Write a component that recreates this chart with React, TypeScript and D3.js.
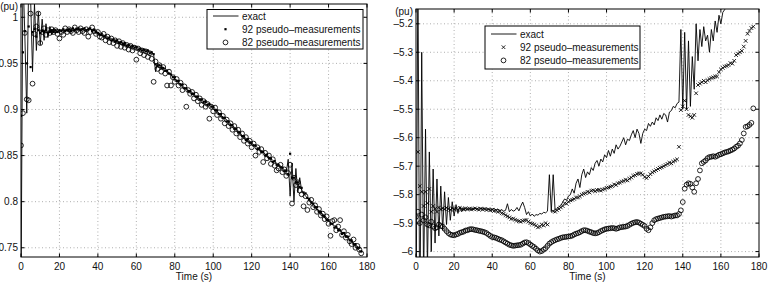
import React, { useEffect, useRef } from 'react';
import * as d3 from 'd3';

// one sample per second, 0 .. 177 s
const timeS: number[] = d3.range(0, 178);

const xTicks = [0, 20, 40, 60, 80, 100, 120, 140, 160, 180];
const leftYTicks = [0.75, 0.8, 0.85, 0.9, 0.95, 1];
const rightYTicks = [-6, -5.9, -5.8, -5.7, -5.6, -5.5, -5.4, -5.3, -5.2];
const legendLabels = ['exact', '92 pseudo\u2013measurements', '82 pseudo\u2013measurements'];

// voltage magnitude (pu)
const leftExact = [
  0.700, 1.050, 0.980, 0.896, 1.040, 1.020, 0.941, 1.015, 0.964, 1.006,
  0.970, 0.998, 0.975, 0.993, 0.978, 0.990, 0.981, 0.988, 0.983, 0.987,
  0.984, 0.986, 0.985, 0.987, 0.985, 0.986, 0.987, 0.985, 0.987, 0.988,
  0.986, 0.988, 0.987, 0.988, 0.986, 0.987, 0.988, 0.986, 0.987, 0.985,
  0.983, 0.982, 0.980, 0.981, 0.978, 0.979, 0.976, 0.977, 0.975, 0.976,
  0.973, 0.974, 0.972, 0.973, 0.970, 0.971, 0.969, 0.970, 0.968, 0.969,
  0.967, 0.967, 0.965, 0.966, 0.964, 0.965, 0.963, 0.963, 0.961, 0.960,
  0.941, 0.950, 0.947, 0.948, 0.944, 0.945, 0.941, 0.940, 0.937, 0.936,
  0.933, 0.932, 0.929, 0.928, 0.925, 0.924, 0.922, 0.921, 0.919, 0.917,
  0.916, 0.914, 0.913, 0.911, 0.911, 0.909, 0.908, 0.907, 0.905, 0.905,
  0.903, 0.901, 0.898, 0.896, 0.894, 0.892, 0.890, 0.889, 0.886, 0.885,
  0.882, 0.881, 0.878, 0.877, 0.874, 0.872, 0.870, 0.869, 0.866, 0.866,
  0.863, 0.862, 0.860, 0.859, 0.856, 0.855, 0.853, 0.852, 0.849, 0.848,
  0.846, 0.845, 0.843, 0.842, 0.839, 0.839, 0.836, 0.835, 0.832, 0.846,
  0.806, 0.842, 0.800, 0.836, 0.810, 0.826, 0.812, 0.809, 0.806, 0.804,
  0.801, 0.800, 0.797, 0.795, 0.792, 0.790, 0.788, 0.785, 0.783, 0.780,
  0.779, 0.777, 0.775, 0.774, 0.772, 0.771, 0.768, 0.767, 0.765, 0.763,
  0.761, 0.759, 0.757, 0.754, 0.752, 0.750, 0.747, 0.745,
];

const leftPseudo92 = [
  0.893, 0.962, 0.985, 0.950, 0.990, 0.946, 0.984, 0.987, 0.979, 0.986,
  0.983, 0.985, 0.984, 0.986, 0.983, 0.984, 0.986, 0.984, 0.986, 0.984,
  0.986, 0.985, 0.987, 0.985, 0.986, 0.987, 0.985, 0.988, 0.986, 0.987,
  0.988, 0.986, 0.987, 0.988, 0.986, 0.987, 0.988, 0.985, 0.986, 0.984,
  0.983, 0.981, 0.982, 0.979, 0.980, 0.977, 0.978, 0.975, 0.976, 0.974,
  0.975, 0.972, 0.973, 0.971, 0.972, 0.969, 0.970, 0.968, 0.969, 0.967,
  0.968, 0.965, 0.966, 0.964, 0.965, 0.963, 0.964, 0.961, 0.962, 0.960,
  0.949, 0.947, 0.948, 0.945, 0.945, 0.942, 0.942, 0.939, 0.938, 0.935,
  0.935, 0.931, 0.931, 0.927, 0.927, 0.923, 0.923, 0.920, 0.920, 0.917,
  0.917, 0.914, 0.914, 0.911, 0.911, 0.908, 0.909, 0.905, 0.906, 0.903,
  0.903, 0.899, 0.899, 0.895, 0.895, 0.891, 0.891, 0.887, 0.887, 0.883,
  0.883, 0.879, 0.879, 0.875, 0.875, 0.871, 0.871, 0.867, 0.868, 0.864,
  0.864, 0.861, 0.861, 0.857, 0.858, 0.854, 0.854, 0.850, 0.851, 0.847,
  0.847, 0.843, 0.844, 0.840, 0.840, 0.837, 0.837, 0.833, 0.834, 0.830,
  0.852, 0.826, 0.826, 0.821, 0.821, 0.816, 0.815, 0.810, 0.809, 0.804,
  0.803, 0.799, 0.798, 0.794, 0.794, 0.789, 0.789, 0.785, 0.784, 0.780,
  0.780, 0.776, 0.776, 0.772, 0.773, 0.769, 0.769, 0.765, 0.766, 0.762,
  0.762, 0.758, 0.758, 0.754, 0.754, 0.750, 0.750, 0.746,
];

const leftPseudo82 = [
  0.861, 0.896, 0.983, 0.911, 0.910, 1.004, 0.928, 0.982, 0.990, 1.004,
  0.972, 0.984, 0.988, 0.981, 0.986, 0.983, 0.987, 0.984, 0.986, 0.982,
  0.977, 0.984, 0.981, 0.988, 0.984, 0.987, 0.985, 0.983, 0.989, 0.986,
  0.984, 0.988, 0.985, 0.983, 0.987, 0.979, 0.984, 0.989, 0.985, 0.982,
  0.984, 0.979, 0.978, 0.982, 0.975, 0.979, 0.973, 0.977, 0.972, 0.975,
  0.969, 0.974, 0.968, 0.972, 0.967, 0.970, 0.965, 0.969, 0.964, 0.967,
  0.954, 0.966, 0.961, 0.964, 0.959, 0.963, 0.957, 0.961, 0.955, 0.930,
  0.952, 0.944, 0.948, 0.941, 0.946, 0.939, 0.926, 0.941, 0.926, 0.935,
  0.930, 0.933, 0.926, 0.929, 0.921, 0.925, 0.903, 0.921, 0.917, 0.919,
  0.912, 0.916, 0.909, 0.912, 0.905, 0.909, 0.903, 0.906, 0.890, 0.903,
  0.898, 0.902, 0.894, 0.897, 0.890, 0.893, 0.885, 0.889, 0.882, 0.885,
  0.878, 0.882, 0.874, 0.878, 0.870, 0.874, 0.866, 0.870, 0.863, 0.866,
  0.859, 0.863, 0.850, 0.859, 0.854, 0.857, 0.843, 0.853, 0.847, 0.850,
  0.841, 0.846, 0.839, 0.834, 0.836, 0.840, 0.832, 0.835, 0.828, 0.831,
  0.840, 0.798, 0.826, 0.818, 0.821, 0.812, 0.808, 0.795, 0.806, 0.791,
  0.799, 0.802, 0.794, 0.796, 0.789, 0.792, 0.785, 0.787, 0.781, 0.784,
  0.776, 0.763, 0.779, 0.780, 0.769, 0.773, 0.780, 0.764, 0.768, 0.761,
  0.764, 0.757, 0.754, 0.759, 0.750, 0.752, 0.748, 0.744,
];

// voltage angle (pu)
const rightExact = [
  -6.300, -5.000, -6.300, -5.300, -6.100, -5.570, -6.060, -5.650, -6.000, -5.710,
  -5.970, -5.745, -5.945, -5.770, -5.925, -5.790, -5.905, -5.810, -5.890, -5.825,
  -5.875, -5.835, -5.866, -5.842, -5.860, -5.846, -5.856, -5.848, -5.853, -5.849,
  -5.852, -5.848, -5.851, -5.846, -5.850, -5.847, -5.852, -5.849, -5.853, -5.850,
  -5.852, -5.849, -5.854, -5.851, -5.856, -5.853, -5.858, -5.855, -5.832, -5.860,
  -5.852, -5.858, -5.855, -5.845, -5.857, -5.840, -5.826, -5.845, -5.870, -5.860,
  -5.875, -5.868, -5.876, -5.870, -5.872, -5.866, -5.868, -5.862, -5.864, -5.858,
  -5.730, -5.860, -5.730, -5.855, -5.848, -5.843, -5.838, -5.826, -5.815, -5.820,
  -5.805, -5.800, -5.780, -5.795, -5.760, -5.745, -5.775, -5.730, -5.710, -5.740,
  -5.720, -5.730, -5.705, -5.715, -5.690, -5.680, -5.700, -5.675, -5.685, -5.660,
  -5.670, -5.645, -5.665, -5.640, -5.655, -5.625, -5.640, -5.630, -5.615, -5.600,
  -5.625, -5.605, -5.610, -5.590, -5.575, -5.600, -5.570, -5.585, -5.620, -5.585,
  -5.570, -5.575, -5.550, -5.560, -5.545, -5.555, -5.530, -5.540, -5.520, -5.535,
  -5.515, -5.520, -5.545, -5.510, -5.505, -5.490, -5.495, -5.480, -5.475, -5.220,
  -5.500, -5.230, -5.500, -5.260, -5.490, -5.315, -5.430, -5.200, -5.330, -5.220,
  -5.280, -5.210, -5.260, -5.240, -5.300, -5.220, -5.260, -5.190, -5.230, -5.170,
  -5.200, -5.160, -5.150, -5.140, -5.120, -5.110, -5.100, -5.090, -5.080, -5.070,
  -5.060, -5.050, -5.040, -5.030, -5.020, -5.010, -5.000, -4.990,
];

const rightPseudo92: (number | null)[] = [
  -5.880, -5.650, -5.770, -5.790, -5.840, -5.790, -5.830, -5.780, -5.860, -5.840,
  -5.850, -5.860, -5.845, -5.852, -5.848, -5.851, -5.846, -5.850, -5.853, -5.848,
  -5.851, -5.849, -5.853, -5.847, -5.850, -5.852, -5.848, -5.851, -5.849, -5.852,
  -5.850, -5.848, -5.851, -5.853, -5.849, -5.852, -5.850, -5.854, -5.851, -5.855,
  -5.853, -5.857, -5.856, -5.860, -5.859, -5.865, -5.867, -5.872, -5.876, -5.880,
  -5.885, -5.884, -5.888, -5.891, -5.893, -5.895, -5.892, -5.890, -5.889, -5.895,
  -5.900, -5.902, -5.905, -5.909, -5.915, -5.912, -5.905, -5.908, -5.900, -5.905,
  null, null, -5.858, -5.860, -5.855, -5.850, -5.845, -5.840, -5.830, -5.832,
  -5.825, -5.820, -5.818, -5.815, -5.810, -5.810, -5.806, -5.800, -5.797, -5.795,
  -5.790, -5.792, -5.786, -5.785, -5.788, -5.784, -5.783, -5.786, -5.782, -5.780,
  -5.776, -5.775, -5.772, -5.770, -5.764, -5.766, -5.760, -5.758, -5.754, -5.752,
  -5.748, -5.750, -5.744, -5.740, -5.734, -5.732, -5.727, -5.726, -5.725, -5.730,
  -5.738, -5.742, -5.736, -5.728, -5.722, -5.718, -5.714, -5.710, -5.706, -5.704,
  -5.700, -5.696, -5.692, -5.688, -5.690, -5.684, -5.680, -5.676, -5.632, -5.503,
  -5.490, -5.470, -5.500, -5.520, -5.525, -5.530, -5.520, -5.444, -5.415, -5.410,
  -5.405, -5.400, -5.405, -5.398, -5.394, -5.390, -5.388, -5.385, -5.385, -5.370,
  -5.360, -5.355, -5.350, -5.348, -5.345, -5.338, -5.340, -5.330, -5.310, -5.305,
  -5.300, -5.295, -5.280, -5.260, -5.235, -5.225, -5.215, -5.210,
];

const rightPseudo82 = [
  -5.878, -5.860, -5.900, -5.870, -5.890, -5.880, -5.905, -5.908, -5.895, -5.912,
  -5.918, -5.915, -5.905, -5.910, -5.912, -5.920, -5.928, -5.935, -5.940, -5.942,
  -5.943, -5.940, -5.938, -5.934, -5.932, -5.930, -5.926, -5.925, -5.922, -5.921,
  -5.922, -5.924, -5.925, -5.927, -5.928, -5.930, -5.932, -5.935, -5.940, -5.945,
  -5.949, -5.950, -5.952, -5.955, -5.958, -5.960, -5.964, -5.968, -5.972, -5.976,
  -5.978, -5.980, -5.979, -5.978, -5.977, -5.976, -5.972, -5.968, -5.967, -5.970,
  -5.975, -5.980, -5.984, -5.990, -5.996, -6.000, -5.998, -5.993, -5.988, -5.980,
  -5.972, -5.967, -5.963, -5.960, -5.957, -5.955, -5.952, -5.950, -5.949, -5.948,
  -5.947, -5.946, -5.944, -5.940, -5.937, -5.935, -5.932, -5.928, -5.925, -5.925,
  -5.927, -5.930, -5.932, -5.935, -5.936, -5.935, -5.932, -5.928, -5.925, -5.922,
  -5.920, -5.919, -5.918, -5.917, -5.918, -5.920, -5.918, -5.915, -5.914, -5.913,
  -5.912, -5.910, -5.906, -5.902, -5.899, -5.897, -5.896, -5.898, -5.902, -5.906,
  -5.910, -5.920, -5.925, -5.915, -5.900, -5.890, -5.886, -5.884, -5.882, -5.880,
  -5.878, -5.877, -5.876, -5.875, -5.877, -5.875, -5.873, -5.873, -5.868, -5.855,
  -5.826, -5.779, -5.765, -5.760, -5.762, -5.775, -5.790, -5.760, -5.745, -5.715,
  -5.690, -5.685, -5.680, -5.672, -5.668, -5.667, -5.665, -5.667, -5.664, -5.660,
  -5.658, -5.655, -5.652, -5.650, -5.648, -5.645, -5.642, -5.638, -5.632, -5.628,
  -5.620, -5.608, -5.585, -5.562, -5.560, -5.555, -5.548, -5.497,
];

const FONT = '"Liberation Sans", Arial, Helvetica, sans-serif';

interface Box { left: number; right: number; top: number; bottom: number; }
interface LegendBox { x: number; y: number; w: number; h: number; first: number; }

interface PanelProps {
  id: string;
  box: Box;
  yDomain: [number, number];
  yTicks: number[];
  exact: number[];
  pseudo92: (number | null)[];
  pseudo82: number[];
  marker92: 'dot' | 'cross';
  legend: LegendBox;
}

const fmt = (v: number) => String(v).replace('-', '\u2013');

const Panel: React.FC<PanelProps> = ({ id, box, yDomain, yTicks, exact, pseudo92, pseudo82, marker92, legend }) => {
  const gRef = useRef<SVGGElement>(null);

  useEffect(() => {
    if (!gRef.current) return;
    const g = d3.select(gRef.current);
    g.selectAll('*').remove();

    const x = d3.scaleLinear().domain([0, 180]).range([box.left, box.right]);
    const y = d3.scaleLinear().domain(yDomain).range([box.bottom, box.top]);

    const clipId = `clip-${id}`;
    g.append('clipPath').attr('id', clipId)
      .append('rect')
      .attr('x', box.left).attr('y', box.top)
      .attr('width', box.right - box.left).attr('height', box.bottom - box.top);

    // dotted grid
    const grid = g.append('g')
      .attr('stroke', '#9a9a9a')
      .attr('stroke-width', 0.8)
      .attr('stroke-dasharray', '1,2.5');
    grid.selectAll('.gx').data(xTicks.slice(1, -1)).join('line')
      .attr('x1', d => x(d)).attr('x2', d => x(d))
      .attr('y1', box.top).attr('y2', box.bottom);
    grid.selectAll('.gy').data(yTicks).join('line')
      .attr('x1', box.left).attr('x2', box.right)
      .attr('y1', d => y(d)).attr('y2', d => y(d));

    const plot = g.append('g').attr('clip-path', `url(#${clipId})`);

    const line = d3.line<number>()
      .x((_, i) => x(timeS[i]))
      .y(d => y(d));

    plot.append('path')
      .datum(exact)
      .attr('d', line)
      .attr('fill', 'none')
      .attr('stroke', '#000')
      .attr('stroke-width', 0.9)
      .attr('stroke-linejoin', 'round');

    const pts92 = timeS
      .map((t, i) => ({ t, v: pseudo92[i] }))
      .filter(d => d.v !== null) as { t: number; v: number }[];

    if (marker92 === 'dot') {
      plot.selectAll('.p92').data(pts92).join('rect')
        .attr('x', d => x(d.t) - 1.1).attr('y', d => y(d.v) - 1.1)
        .attr('width', 2.2).attr('height', 2.2)
        .attr('fill', '#000');
    } else {
      plot.selectAll('.p92').data(pts92).join('path')
        .attr('d', 'M-1.8,-1.8L1.8,1.8M-1.8,1.8L1.8,-1.8')
        .attr('transform', d => `translate(${x(d.t)},${y(d.v)})`)
        .attr('stroke', '#000').attr('stroke-width', 0.85).attr('fill', 'none');
    }

    plot.selectAll('.p82').data(pseudo82).join('circle')
      .attr('cx', (_, i) => x(timeS[i]))
      .attr('cy', d => y(d))
      .attr('r', 2.4)
      .attr('fill', 'none')
      .attr('stroke', '#000')
      .attr('stroke-width', 0.85);

    // box and inward ticks on all four sides
    const axes = g.append('g').attr('stroke', '#000').attr('stroke-width', 1);
    axes.append('rect')
      .attr('x', box.left).attr('y', box.top)
      .attr('width', box.right - box.left).attr('height', box.bottom - box.top)
      .attr('fill', 'none');
    const tl = 3.5;
    xTicks.forEach(t => {
      axes.append('line').attr('x1', x(t)).attr('x2', x(t)).attr('y1', box.bottom).attr('y2', box.bottom - tl);
      axes.append('line').attr('x1', x(t)).attr('x2', x(t)).attr('y1', box.top).attr('y2', box.top + tl);
    });
    yTicks.forEach(t => {
      axes.append('line').attr('x1', box.left).attr('x2', box.left + tl).attr('y1', y(t)).attr('y2', y(t));
      axes.append('line').attr('x1', box.right).attr('x2', box.right - tl).attr('y1', y(t)).attr('y2', y(t));
    });

    const text = g.append('g')
      .attr('font-family', FONT)
      .attr('font-size', 10)
      .attr('fill', '#111');

    text.selectAll('.xl').data(xTicks).join('text')
      .attr('x', d => x(d))
      .attr('y', box.bottom + 12.5)
      .attr('text-anchor', 'middle')
      .text(d => String(d));

    text.selectAll('.yl').data(yTicks).join('text')
      .attr('x', box.left - 3)
      .attr('y', d => y(d) + 3.5)
      .attr('text-anchor', 'end')
      .text(d => fmt(d));

    text.append('text')
      .attr('x', box.left - 3)
      .attr('y', box.top + 5.5)
      .attr('text-anchor', 'end')
      .text('(pu)');

    text.append('text')
      .attr('x', (box.left + box.right) / 2)
      .attr('y', box.bottom + 22.5)
      .attr('text-anchor', 'middle')
      .text('Time (s)');

    // legend
    const lg = g.append('g').attr('transform', `translate(${legend.x},${legend.y})`);
    lg.append('rect')
      .attr('width', legend.w).attr('height', legend.h)
      .attr('fill', '#fff').attr('stroke', '#000').attr('stroke-width', 1);
    const rowY = (i: number) => legend.first + i * 13.2;
    lg.append('line')
      .attr('x1', 6).attr('x2', 31.5)
      .attr('y1', rowY(0) - 3.5).attr('y2', rowY(0) - 3.5)
      .attr('stroke', '#000').attr('stroke-width', 0.9);
    if (marker92 === 'dot') {
      lg.append('rect').attr('x', 17.4).attr('y', rowY(1) - 4.6).attr('width', 2.2).attr('height', 2.2).attr('fill', '#000');
    } else {
      lg.append('path')
        .attr('d', 'M-1.8,-1.8L1.8,1.8M-1.8,1.8L1.8,-1.8')
        .attr('transform', `translate(18.5,${rowY(1) - 3.5})`)
        .attr('stroke', '#000').attr('stroke-width', 0.85);
    }
    lg.append('circle')
      .attr('cx', 18.5).attr('cy', rowY(2) - 3.5).attr('r', 2.4)
      .attr('fill', 'none').attr('stroke', '#000').attr('stroke-width', 0.85);
    lg.selectAll('.lt').data(legendLabels).join('text')
      .attr('x', 35)
      .attr('y', (_, i) => rowY(i))
      .attr('font-family', FONT)
      .attr('font-size', 10)
      .attr('fill', '#111')
      .text(d => d);
  }, [id, box, yDomain, yTicks, exact, pseudo92, pseudo82, marker92, legend]);

  return <g ref={gRef} />;
};

const leftBox: Box = { left: 21, right: 367, top: 4, bottom: 257 };
const rightBox: Box = { left: 416, right: 759, top: 9, bottom: 257 };
const leftLegend: LegendBox = { x: 207, y: 9.5, w: 156, h: 39.5, first: 10 };
const rightLegend: LegendBox = { x: 485, y: 26, w: 155, h: 43, first: 11.5 };
const leftDomain: [number, number] = [0.74, 1.0144];
const rightDomain: [number, number] = [-6.019, -5.148];

const App: React.FC = () => (
  <svg
    width={770}
    height={284}
    style={{ position: 'absolute', left: 0, top: 0, background: '#fff', display: 'block' }}
  >
    <rect width={770} height={284} fill="#fff" />
    <Panel
      id="mag"
      box={leftBox}
      yDomain={leftDomain}
      yTicks={leftYTicks}
      exact={leftExact}
      pseudo92={leftPseudo92}
      pseudo82={leftPseudo82}
      marker92="dot"
      legend={leftLegend}
    />
    <Panel
      id="ang"
      box={rightBox}
      yDomain={rightDomain}
      yTicks={rightYTicks}
      exact={rightExact}
      pseudo92={rightPseudo92}
      pseudo82={rightPseudo82}
      marker92="cross"
      legend={rightLegend}
    />
  </svg>
);

export default App;
